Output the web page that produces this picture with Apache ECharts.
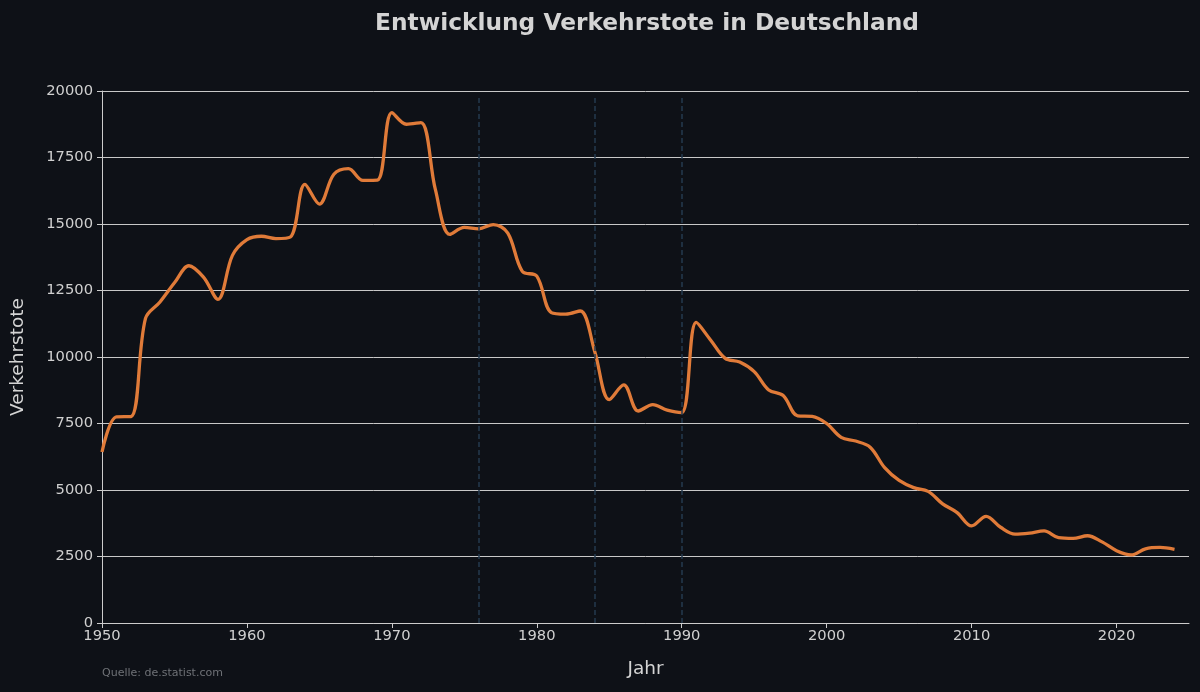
<!DOCTYPE html>
<html>
<head>
<meta charset="utf-8">
<script src="https://cdn.jsdelivr.net/npm/echarts@6/dist/echarts.min.js"></script>
<style>
html,body{margin:0;padding:0;background:#0e1117;}
#chart{width:1200px;height:692px;}
</style>
</head>
<body>
<div id="chart"></div>
<script>
const years = [1950,1951,1952,1953,1954,1955,1956,1957,1958,1959,1960,1961,1962,1963,1964,1965,1966,1967,1968,1969,1970,1971,1972,1973,1974,1975,1976,1977,1978,1979,1980,1981,1982,1983,1984,1985,1986,1987,1988,1989,1990,1991,1992,1993,1994,1995,1996,1997,1998,1999,2000,2001,2002,2003,2004,2005,2006,2007,2008,2009,2010,2011,2012,2013,2014,2015,2016,2017,2018,2019,2020,2021,2022,2023,2024];
const deaths = [6430,7750,7760,11450,12070,12790,13430,13000,12170,13820,14410,14540,14450,14510,16490,15750,16870,17080,16640,16650,19190,18750,18810,16300,14610,14870,14820,14980,14660,13220,13040,11670,11610,11730,10200,8400,8950,7970,8210,8000,7910,11300,10630,9950,9810,9450,8760,8550,7790,7770,7500,6980,6840,6610,5840,5360,5090,4950,4480,4150,3650,4010,3600,3340,3380,3460,3210,3180,3280,3050,2720,2560,2790,2840,2770];
const markerYears = [1976,1984,1990];
const xTicks = [1950,1960,1970,1980,1990,2000,2010,2020];

const chart = echarts.init(document.getElementById('chart'));
const font = 'DejaVu Sans';
chart.setOption({
  backgroundColor:'#0e1117',
  animation:false,
  title:{text:'Entwicklung Verkehrstote in Deutschland',left:642,textAlign:'center',top:7,
    textStyle:{color:'#d4d4d4',fontSize:23.3,fontWeight:'bold',fontFamily:font}},
  graphic:[{type:'text',left:102,top:668,style:{text:'Quelle: de.statist.com',fill:'#6f7277',fontSize:11,fontFamily:font}}],
  grid:{left:102,right:11,top:91,bottom:69,containLabel:false,outerBoundsMode:'none'},
  xAxis:{type:'value',min:1950,max:2025,interval:10,
    name:'Jahr',nameLocation:'middle',nameGap:37,
    nameTextStyle:{color:'#d4d4d4',fontSize:18.5,fontFamily:font},
    axisLine:{show:true,lineStyle:{color:'#cccccc',width:1}},
    axisTick:{show:true,length:5,lineStyle:{color:'#cccccc'},customValues:xTicks},
    axisLabel:{color:'#d0d0d0',fontSize:14.7,fontFamily:font,margin:6,customValues:xTicks,
      formatter:v=>String(v)},
    splitLine:{show:false}},
  yAxis:{type:'value',min:0,max:20000,interval:2500,
    name:'Verkehrstote',nameLocation:'middle',nameGap:74,
    nameTextStyle:{color:'#d4d4d4',fontSize:18.5,fontFamily:font},
    axisLine:{show:true,lineStyle:{color:'#cccccc',width:1}},
    axisTick:{show:true,length:5,lineStyle:{color:'#cccccc'}},
    axisLabel:{color:'#d0d0d0',fontSize:14.7,fontFamily:font,margin:9,formatter:v=>String(v)},
    splitLine:{show:true,lineStyle:{color:'#c8c8c8',width:1}}},
  series:[{type:'line',data:years.map((y,i)=>[y,deaths[i]]),smooth:0.35,showSymbol:false,
    lineStyle:{color:'#e07b39',width:3.3},
    markLine:{silent:true,symbol:'none',label:{show:false},
      lineStyle:{color:'#243a4f',type:[5,3],width:1.5},
      data:markerYears.map(y=>[{coord:[y,0]},{coord:[y,19800]}])}}]
});
</script>
</body>
</html>
